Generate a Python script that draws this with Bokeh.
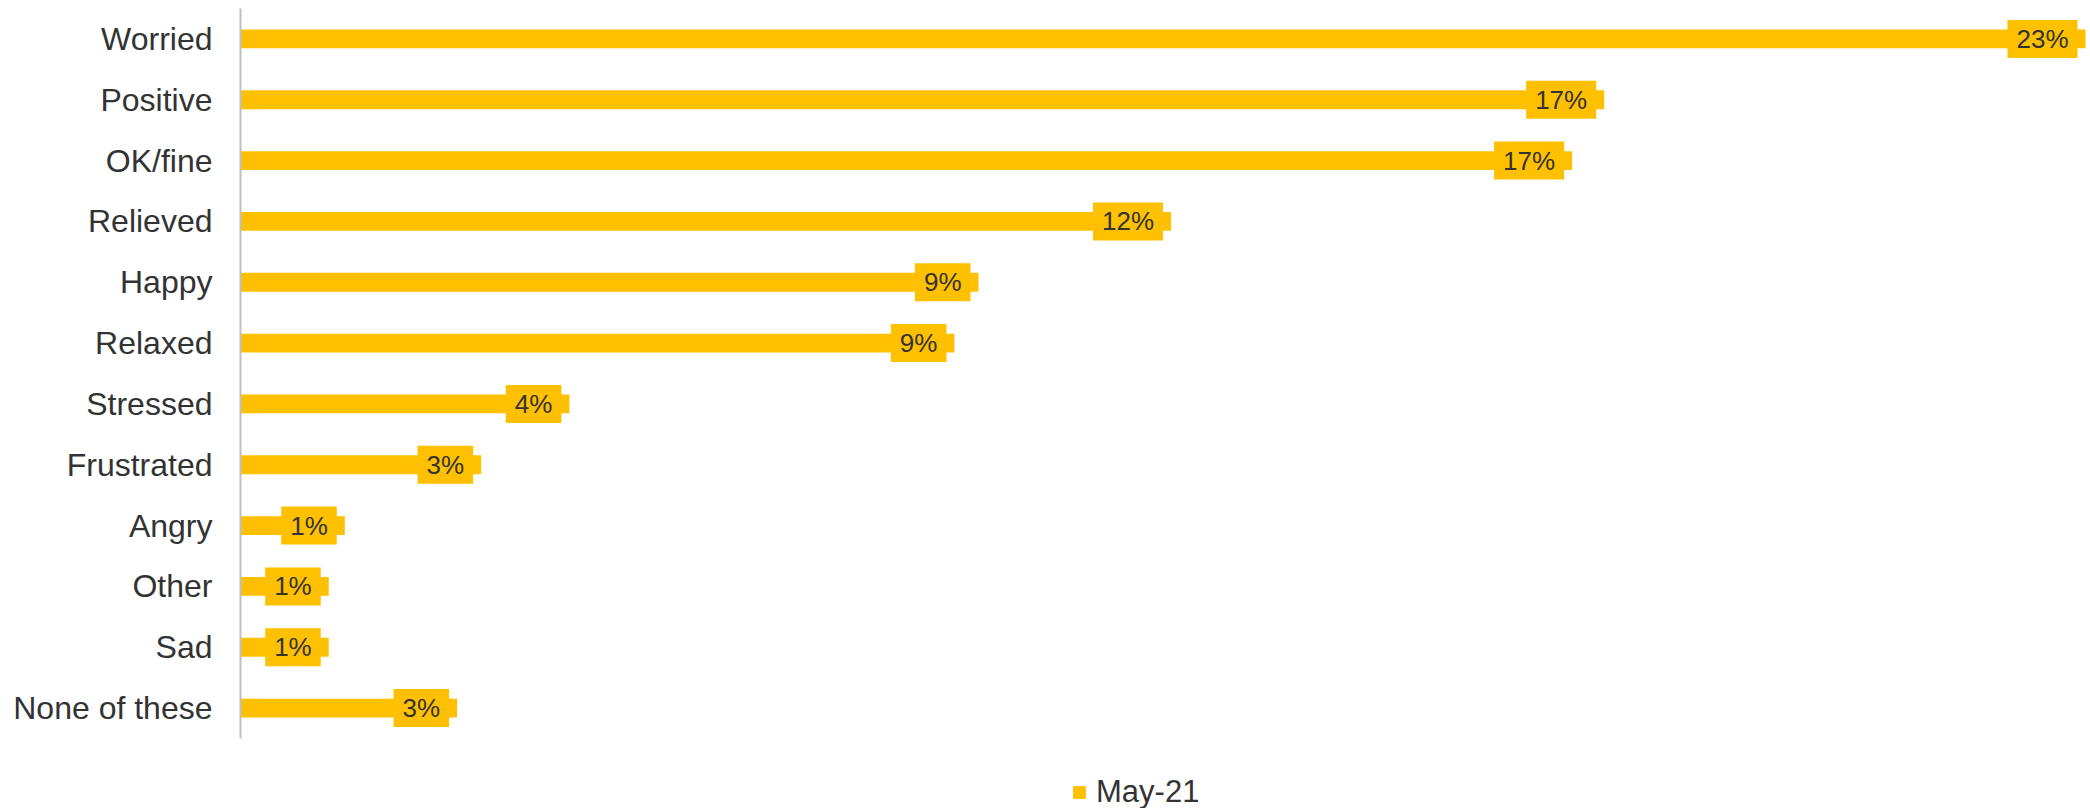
from bokeh.plotting import figure
from bokeh.models import Range1d, Legend, LegendItem, ColumnDataSource, FixedTicker
from bokeh.core.properties import value
from bokeh.embed import file_html
from bokeh.resources import INLINE

categories = ["Worried", "Positive", "OK/fine", "Relieved", "Happy", "Relaxed",
              "Stressed", "Frustrated", "Angry", "Other", "Sad", "None of these"]
values = [23.0, 17.0, 16.6, 11.6, 9.2, 8.9, 4.1, 3.0, 1.3, 1.1, 1.1, 2.7]
series_name = "May-21"

pos = list(range(len(categories)))
labels = [f"{int(v + 0.5):d}%" for v in values]
src = ColumnDataSource(dict(pos=pos, val=values, lab=labels))

FONT = "Liberation Sans"
TXT = "#333333"
BAR = "#FFC000"

n = len(categories)
band_px = 730 / n
frame_h = 800
p = figure(width=2090, height=808, output_backend="svg", toolbar_location=None,
           y_range=Range1d(start=-0.5 + frame_h / band_px, end=-0.5),
           x_range=Range1d(0, 23.0 * 1850 / 1845),
           min_border_left=240, min_border_right=0, min_border_top=8, min_border_bottom=0)
p.outline_line_color = None
p.xgrid.visible = False
p.ygrid.visible = False
p.xaxis.visible = False

ax = p.yaxis[0]
ax.ticker = FixedTicker(ticks=pos)
ax.major_label_overrides = {i: c for i, c in zip(pos, categories)}
ax.bounds = (-0.5, n - 0.5)
ax.axis_line_color = "#BFBFBF"
ax.axis_line_width = 2
ax.major_tick_line_color = None
ax.minor_tick_line_color = None
ax.major_tick_out = 0
ax.major_tick_in = 0
ax.major_label_standoff = 28
ax.major_label_text_font = FONT
ax.major_label_text_font_size = "32px"
ax.major_label_text_color = TXT

bars = p.hbar(y="pos", right="val", left=0, height=0.31, source=src,
              fill_color=BAR, line_color=None)

p.text(x="val", y="pos", text="lab", source=src, anchor="center_right", x_offset=-8,
       text_font=value(FONT), text_font_size="26px", text_color=TXT,
       text_align="center", text_baseline="middle",
       background_fill_color=BAR, padding=(9, 4))

legend = Legend(items=[LegendItem(label=series_name, renderers=[bars])],
                location=(831, -2), orientation="horizontal",
                padding=0, margin=0, spacing=0, glyph_width=16, glyph_height=16,
                label_standoff=9, label_text_font=FONT, label_text_font_size="31px",
                label_text_color=TXT, border_line_color=None, background_fill_alpha=0)
p.add_layout(legend, "center")

open("out.html", "w").write(file_html(p, INLINE))
